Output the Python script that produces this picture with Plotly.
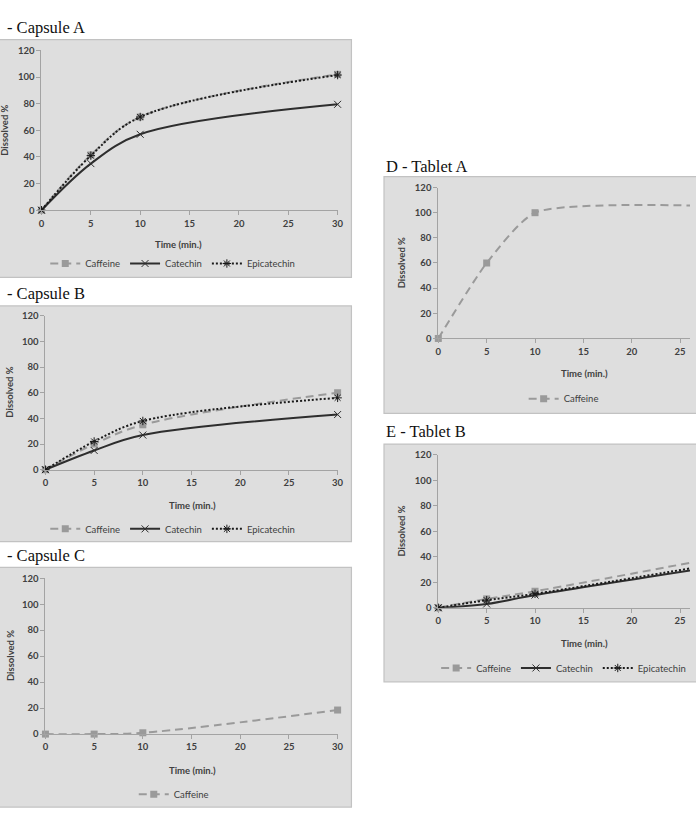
import plotly.graph_objects as go

W, H = 696, 818

# ---------------- data ----------------
time_pts = [0, 5, 10, 30]
x_ticks = [0, 5, 10, 15, 20, 25, 30]
y_ticks = [0, 20, 40, 60, 80, 100, 120]

capA_caffeine = [0, 41.5, 70, 102]
capA_catechin = [0, 35, 57, 79.5]
capA_epicatechin = [0, 41, 70, 101.5]

capB_caffeine = [0, 20, 35, 60]
capB_catechin = [0, 15, 27, 43]
capB_epicatechin = [0, 22, 38, 56]

capC_caffeine = [0, 0, 1, 18.5]

tabA_caffeine = [0, 60, 100, 105]

tabB_caffeine = [0, 7, 13, 41]
tabB_catechin = [0, 3, 10, 34]
tabB_epicatechin = [0, 6, 11, 36]

panel_titles = ["- Capsule A", "- Capsule B", "- Capsule C", "D - Tablet A", "E - Tablet B"]
series_names = ["Caffeine", "Catechin", "Epicatechin"]

# ---------------- helpers ----------------
def px(x):
    return x / W

def py(y):
    return 1 - y / H

BG = "#dedede"
BORDER = "#c2c2c2"
AXIS = "#a3a3a3"
TXT = "#404040"
SANS = "Lato"
SERIF = "Liberation Serif"

def style(name, smoothing=1.0):
    if name == "Caffeine":
        return dict(line=dict(color="#9a9a9a", width=2, dash="8px,5px", shape="spline", smoothing=smoothing),
                    marker=dict(symbol="square", size=7, color="#9a9a9a"))
    if name == "Catechin":
        return dict(line=dict(color="#2e2e2e", width=2, dash="solid", shape="spline", smoothing=smoothing),
                    marker=dict(symbol="x-thin-open", size=7, color="#2e2e2e", line=dict(width=1, color="#2e2e2e")))
    return dict(line=dict(color="#1a1a1a", width=2, dash="2px,2px", shape="spline", smoothing=smoothing),
                marker=dict(symbol="asterisk-open", size=7, color="#1a1a1a", line=dict(width=1, color="#1a1a1a")))

# panel geometry (pixels)
panels = [
    dict(pa=(39, 339, 45, 207), xr=[0, 30], box=(-10, 353, 34, 275), title=(2, 22),
         ylab=(1.5, 126), xlab=(178, 242), leg=(172, 261), sm=1.0,
         series=[("Caffeine", capA_caffeine), ("Catechin", capA_catechin), ("Epicatechin", capA_epicatechin)]),
    dict(pa=(43, 339, 314, 470), xr=[0, 30], box=(-10, 353, 304, 543), title=(2, 291),
         ylab=(7, 391), xlab=(192, 506), leg=(172, 530), sm=1.0,
         series=[("Caffeine", capB_caffeine), ("Catechin", capB_catechin), ("Epicatechin", capB_epicatechin)]),
    dict(pa=(43, 339, 580, 738), xr=[0, 30], box=(-10, 353, 569, 812), title=(2, 557),
         ylab=(7, 658), xlab=(192, 775), leg=(173, 799), sm=1.0,
         series=[("Caffeine", capC_caffeine)]),
    dict(pa=(441, 696, 184, 337), xr=[0, 25 + (696 - 686) / 9.8], box=(386, 760, 173, 413), title=(386, 163),
         ylab=(404, 260), xlab=(589, 373), leg=(568, 398), sm=0.6,
         series=[("Caffeine", tabA_caffeine)]),
    dict(pa=(441, 696, 455, 610), xr=[0, 25 + (696 - 686) / 9.8], box=(386, 760, 444, 685), title=(386, 431),
         ylab=(404, 532), xlab=(589, 646), leg=(568, 671), sm=1.0,
         series=[("Caffeine", tabB_caffeine), ("Catechin", tabB_catechin), ("Epicatechin", tabB_epicatechin)]),
]

fig = go.Figure()
shapes = []
annotations = []
layout = {}

for i, p in enumerate(panels):
    n = i + 1
    xa = "xaxis" if n == 1 else f"xaxis{n}"
    ya = "yaxis" if n == 1 else f"yaxis{n}"
    xref = "x" if n == 1 else f"x{n}"
    yref = "y" if n == 1 else f"y{n}"
    legname = "legend" if n == 1 else f"legend{n}"

    bx0, bx1, by0, by1 = p["box"]
    shapes.append(dict(type="rect", xref="paper", yref="paper", layer="below",
                       x0=px(bx0), x1=px(bx1), y0=py(by1), y1=py(by0),
                       fillcolor=BG, line=dict(color=BORDER, width=1.2)))

    x0, x1, yt, yb = p["pa"]
    layout[xa] = dict(domain=[px(x0), px(x1)], anchor=yref, range=p["xr"],
                      tickvals=x_ticks, ticktext=[str(v) for v in x_ticks],
                      showline=True, linecolor=AXIS, linewidth=1, ticks="outside",
                      ticklen=4, tickcolor=AXIS, showgrid=False, zeroline=False,
                      tickfont=dict(family=SANS, size=9.5, color=TXT, weight="bold"))
    layout[ya] = dict(domain=[py(yb), py(yt)], anchor=xref, range=[0, 120],
                      tickvals=y_ticks, ticktext=[str(v) for v in y_ticks],
                      showline=True, linecolor=AXIS, linewidth=1, ticks="outside",
                      ticklen=4, tickcolor=AXIS, showgrid=False, zeroline=False,
                      tickfont=dict(family=SANS, size=9.5, color=TXT, weight="bold"))

    for name, vals in p["series"]:
        st = style(name, p["sm"])
        fig.add_trace(go.Scatter(x=time_pts, y=vals, mode="lines+markers", name=name,
                                 xaxis=xref, yaxis=yref, legend=legname, cliponaxis=False,
                                 line=st["line"], marker=st["marker"]))

    lx, ly = p["leg"]
    layout[legname] = dict(orientation="h", x=px(lx), y=py(ly), xanchor="center", yanchor="middle",
                           bgcolor="rgba(0,0,0,0)", font=dict(family=SANS, size=9.5, color=TXT),
                           itemwidth=30, tracegroupgap=0)

    tx, ty = p["title"]
    annotations.append(dict(text=panel_titles[i], xref="paper", yref="paper", x=px(tx), y=py(ty),
                            xanchor="left", yanchor="middle", showarrow=False,
                            font=dict(family=SERIF, size=16.5, color="#111111")))
    yx, yy = p["ylab"]
    annotations.append(dict(text="Dissolved %", xref="paper", yref="paper", x=px(yx), y=py(yy),
                            xanchor="center", yanchor="middle", textangle=-90, showarrow=False,
                            font=dict(family=SANS, size=9.5, color=TXT, weight="bold")))
    tlx, tly = p["xlab"]
    annotations.append(dict(text="Time (min.)", xref="paper", yref="paper", x=px(tlx), y=py(tly),
                            xanchor="center", yanchor="middle", showarrow=False,
                            font=dict(family=SANS, size=9.5, color=TXT, weight="bold")))

fig.update_layout(width=W, height=H, margin=dict(l=0, r=0, t=0, b=0),
                  paper_bgcolor="white", plot_bgcolor="rgba(0,0,0,0)",
                  shapes=shapes, annotations=annotations, **layout)

fig.write_html("out.html")
